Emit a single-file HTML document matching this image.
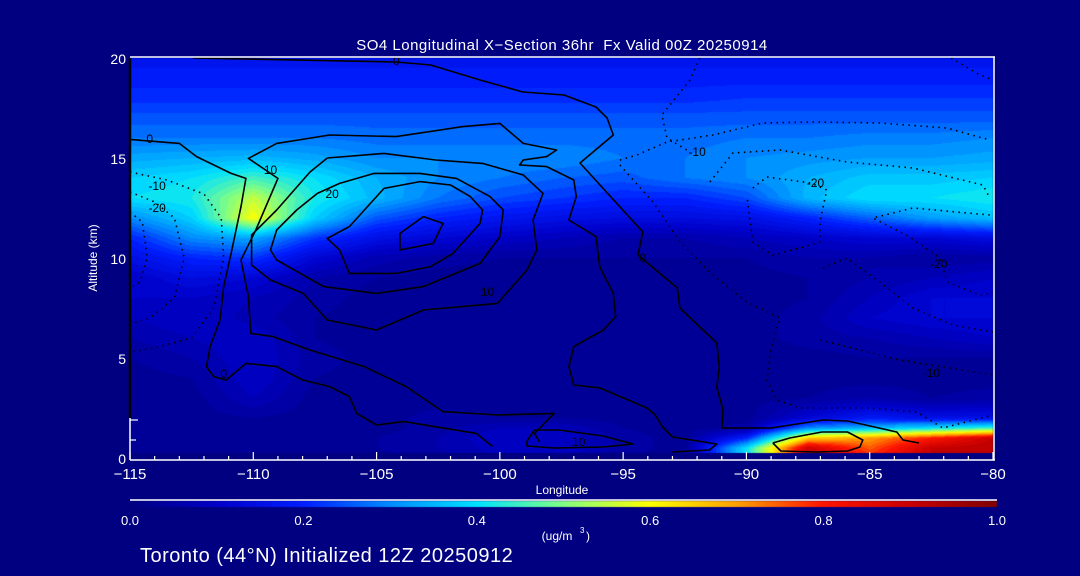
<!DOCTYPE html>
<html><head><meta charset="utf-8">
<style>
html,body{margin:0;padding:0;background:#000080;}
body{width:1080px;height:576px;overflow:hidden;position:relative;font-family:"Liberation Sans",sans-serif;color:#fff;}
canvas{position:absolute;left:0;top:0;}
svg{position:absolute;left:0;top:0;}
</style></head>
<body>
<canvas id="field" width="1080" height="576"></canvas>
<svg id="chart" width="1080" height="576"></svg>
<script>
// ---------- data ----------
const lonGrid = [-115,-112.5,-110,-107.5,-105,-102.5,-100,-97.5,-95,-92.5,-90,-87.5,-85,-82.5,-80];
const altGrid = [20,19,18,17,16,15,14,13,12,11,10,9,8,7,6,5,4,3,2,1.5,1,0.5,0];
const so4 = [
 [0.17,0.17,0.17,0.17,0.17,0.17,0.17,0.17,0.17,0.17,0.17,0.17,0.17,0.17,0.17],
 [0.19,0.19,0.19,0.19,0.19,0.19,0.19,0.19,0.19,0.19,0.19,0.19,0.19,0.19,0.19],
 [0.21,0.21,0.21,0.21,0.21,0.21,0.21,0.21,0.21,0.21,0.22,0.22,0.22,0.22,0.22],
 [0.25,0.25,0.25,0.25,0.25,0.25,0.25,0.25,0.25,0.25,0.25,0.25,0.25,0.25,0.25],
 [0.28,0.28,0.28,0.28,0.27,0.27,0.27,0.27,0.27,0.27,0.28,0.28,0.29,0.29,0.30],
 [0.33,0.34,0.35,0.33,0.30,0.30,0.30,0.30,0.28,0.28,0.30,0.31,0.32,0.32,0.33],
 [0.38,0.40,0.45,0.40,0.34,0.30,0.28,0.26,0.25,0.28,0.30,0.34,0.37,0.37,0.38],
 [0.40,0.42,0.55,0.42,0.35,0.28,0.24,0.22,0.20,0.20,0.24,0.35,0.40,0.40,0.42],
 [0.30,0.38,0.60,0.38,0.25,0.20,0.17,0.15,0.14,0.14,0.15,0.20,0.26,0.32,0.36],
 [0.20,0.30,0.33,0.22,0.15,0.12,0.10,0.08,0.06,0.06,0.08,0.10,0.12,0.12,0.14],
 [0.15,0.20,0.22,0.12,0.07,0.05,0.04,0.04,0.04,0.04,0.04,0.06,0.06,0.04,0.05],
 [0.10,0.14,0.12,0.06,0.04,0.03,0.03,0.03,0.03,0.03,0.03,0.04,0.06,0.08,0.10],
 [0.10,0.10,0.08,0.05,0.03,0.03,0.03,0.03,0.03,0.03,0.03,0.04,0.08,0.12,0.12],
 [0.08,0.10,0.07,0.04,0.03,0.03,0.03,0.03,0.03,0.03,0.03,0.05,0.10,0.12,0.12],
 [0.06,0.08,0.10,0.04,0.03,0.03,0.03,0.03,0.03,0.03,0.03,0.05,0.06,0.08,0.10],
 [0.04,0.06,0.10,0.05,0.03,0.03,0.03,0.03,0.03,0.03,0.03,0.03,0.04,0.04,0.04],
 [0.03,0.04,0.10,0.04,0.03,0.03,0.03,0.03,0.03,0.03,0.03,0.03,0.03,0.03,0.03],
 [0.03,0.03,0.08,0.03,0.03,0.03,0.03,0.03,0.03,0.03,0.03,0.04,0.06,0.04,0.05],
 [0.03,0.03,0.04,0.03,0.03,0.05,0.04,0.04,0.03,0.03,0.03,0.12,0.18,0.15,0.15],
 [0.03,0.03,0.03,0.03,0.03,0.05,0.08,0.08,0.04,0.03,0.05,0.30,0.35,0.40,0.45],
 [0.03,0.03,0.03,0.03,0.04,0.06,0.10,0.10,0.05,0.03,0.20,0.65,0.70,0.80,0.90],
 [0.03,0.03,0.03,0.03,0.04,0.06,0.09,0.10,0.05,0.03,0.40,0.90,0.75,0.90,0.92],
 [0.03,0.03,0.03,0.03,0.03,0.05,0.08,0.08,0.04,0.03,0.40,0.90,0.80,0.90,0.92]
];
const xTickLabels = [-115,-110,-105,-100,-95,-90,-85,-80];
const yTickLabels = [0,5,10,15,20];
const cbarLabels = ["0.0","0.2","0.4","0.6","0.8","1.0"];

// contours [lon, alt]
const posContours = [
 [[-115,15.93],[-113,15.73],[-112.3,15.07],[-110.9,14.23],[-110.3,13.98],[-110.5,12.57],[-110.9,10.23],[-111.2,8.57],[-111.35,6.9],[-111.75,5.57],[-111.9,4.57],[-111.6,4.07],[-111.1,3.9],[-110.3,4.73],[-109.05,4.57],[-108,3.9],[-106.9,3.57],[-106.1,3.07],[-105.8,2.23],[-105,1.65],[-103.9,1.82],[-100.95,1.23],[-100.3,0.57]],
 [[-98.4,0.82],[-98.6,1.23],[-97.8,2.23],[-100.1,2.15],[-102.3,2.32],[-103.8,3.57],[-105.5,4.57],[-107.7,5.4],[-109.2,6.07],[-110.1,6.23],[-110.2,8.07],[-110.5,9.9],[-109.9,11.4],[-109,13.98],[-110.2,14.98],[-109.05,15.73],[-106.9,16.15],[-104.2,16.07],[-101.5,16.57],[-100,16.73],[-99.05,15.73],[-97.7,15.4],[-98.1,15.07],[-99.05,14.9],[-99.2,14.65],[-98.1,14.57],[-97,13.9],[-96.9,13.07],[-97.2,11.9],[-96.1,11.07],[-95.95,9.57],[-95.4,8.23],[-95.3,7.07],[-95.8,6.4],[-97,5.57],[-97.2,4.57],[-97,3.65],[-95.94,3.5],[-94.03,2.5],[-93.7,2.15],[-93.4,1.55],[-93,1.05],[-91.2,0.7],[-91.5,0.4],[-93,0.3]],
 [[-112.45,20],[-104.2,19.8],[-102.8,19.65],[-100.8,18.9],[-99.06,18.3],[-97.4,18.15],[-96.1,17.55],[-95.65,17],[-95.4,16.15],[-96.75,14.75],[-94.2,11.3],[-94.4,10.15],[-92.8,8.5],[-92.7,7.5],[-91.2,5.75],[-91.1,4.55],[-91.2,3.55],[-90.95,2.4],[-91,1.5],[-89,1.5],[-86.9,1.9],[-85.9,1.85],[-83.9,1.3],[-83.65,0.9],[-83,0.75]],
 [[-107,15],[-107.7,14.3],[-109.05,12.4],[-110.07,11.15],[-110.07,9.65],[-109.3,8.9],[-107.97,8.23],[-107,6.9],[-105,6.4],[-103.1,7.4],[-100.1,7.73],[-98.9,9.4],[-98.5,10.4],[-98.65,11.9],[-98.25,13.23],[-99.05,14.15],[-100.7,14.73],[-102.6,14.9],[-104.7,15.23],[-107,15]],
 [[-109.3,10.4],[-109.05,9.9],[-107.15,8.57],[-105,8.23],[-103.1,8.57],[-100.8,9.73],[-100,11.07],[-99.86,12.4],[-100.4,13.07],[-101.76,13.98],[-103.24,14.23],[-105.1,14.23],[-106.5,13.73],[-107.4,13.23],[-108.24,12.4],[-109.05,11.4],[-109.3,10.4]],
 [[-104.7,13.48],[-106.1,11.57],[-107,10.98],[-106.5,10.4],[-106.1,9.23],[-104.2,9.23],[-102.8,9.57],[-101.9,10.23],[-100.8,11.73],[-100.7,12.4],[-101.2,13.07],[-102,13.65],[-103.24,13.82],[-104.7,13.48]],
 [[-103.1,12.07],[-104.05,11.23],[-104.05,10.4],[-102.7,10.73],[-102.3,11.73],[-103.1,12.07]],
 [[-98.9,0.85],[-98.6,1.4],[-97.6,1.4],[-95.8,1.1],[-94.6,0.7],[-95.8,0.55],[-97.8,0.5],[-98.9,0.6],[-98.9,0.85]],
 [[-88.93,0.75],[-88.24,1.0],[-86.94,1.3],[-85.9,1.3],[-85.28,0.9],[-85.4,0.55],[-85.9,0.35],[-87.14,0.3],[-88.6,0.35],[-88.93,0.75]]
];
const negContours = [
 [[-115,14.3],[-113.5,13.9],[-112,13.2],[-111.3,12],[-111.2,10],[-111.6,7.5],[-112.5,6],[-114,5.5],[-115,5.3]],
 [[-115,13.3],[-114,12.8],[-113.2,12],[-112.8,10],[-113.2,8],[-114.2,7],[-115,6.7]],
 [[-115,12.3],[-114.5,11.8],[-114.3,10],[-114.6,8.8],[-115,8.5]],
 [[-91.89,20],[-92.29,18.9],[-93.43,17.15],[-93.22,16],[-92.29,15.3]],
 [[-95.13,14.9],[-94.44,15.15],[-93.22,15.8],[-91.36,16.15],[-89.33,16.75],[-87.3,16.8],[-84.59,16.75],[-81.87,16.5],[-80.13,15.9]],
 [[-95.13,14.65],[-93.79,12.8],[-92.7,10.8],[-91.36,9.15],[-89.98,7.8],[-88.64,7],[-89,5.5],[-89.17,3.9],[-88.76,2.9],[-87.83,2.5],[-85.11,2.5],[-83.09,2.3],[-82.03,1.5],[-80,2.15]],
 [[-87,5.9],[-83.8,4.9],[-80,4.15]],
 [[-91.48,13.8],[-90.55,15.25],[-88.64,15.4],[-85.92,14.8],[-83.25,14.5],[-80.41,13.65],[-80.13,13]],
 [[-89.74,13.5],[-89.17,14.05],[-87.38,13.75],[-86.74,13.4],[-87.02,11.8],[-87.02,10.8],[-87.83,10.5],[-88.93,10.15],[-89.74,10.8],[-89.98,13.1]],
 [[-80.13,12.15],[-83.25,12.5],[-84.87,12],[-83.37,11.05],[-82.15,10],[-81.87,8.8],[-80.53,8.15],[-80,8.25]],
 [[-86.9,9.5],[-85.92,10],[-84.59,8.8],[-83.25,7.5],[-81.63,6.65],[-80,6.3]],
 [[-81.7,20],[-80.6,19.2],[-80,18.9]]
];
const contourLabels = [
 ["0",-114.2,15.95],["-10",-113.9,13.6],["-20",-113.9,12.5],["10",-109.3,14.4],["20",-106.8,13.2],
 ["0",-111.2,4.2],["10",-100.5,8.3],["0",-104.2,19.85],["-10",-92.0,15.3],["0",-94.2,10],
 ["-20",-87.2,13.75],["-20",-82.2,9.7],["-10",-82.5,4.25],["10",-96.8,0.8]
];

// ---------- axes ----------
const X0=130, X1=993, Y0=458, Y1=58;
const LONMIN=-115, LONMAX=-80, ALTMIN=0, ALTMAX=20;
function xs(lon){return X0+(lon-LONMIN)/(LONMAX-LONMIN)*(X1-X0);}
function ys(alt){return Y0-(alt-ALTMIN)/(ALTMAX-ALTMIN)*(Y0-Y1);}

const cmapStops=[[0,0,0,128],[0.1,0,0,200],[0.2,0,30,255],[0.3,0,140,255],[0.4,0,225,255],[0.5,130,255,130],[0.6,255,255,0],[0.7,255,160,0],[0.8,255,20,0],[0.9,200,0,0],[1,128,0,0]];
function cmap(v){
  v=Math.max(0,Math.min(1,v));
  for(let i=1;i<cmapStops.length;i++){
    const a=cmapStops[i-1],b=cmapStops[i];
    if(v<=b[0]){const t=(v-a[0])/(b[0]-a[0]);return [a[1]+(b[1]-a[1])*t,a[2]+(b[2]-a[2])*t,a[3]+(b[3]-a[3])*t];}
  }
  return [128,0,0];
}
function sample(lon,alt){
  let i=0; while(i<lonGrid.length-2 && lon>lonGrid[i+1]) i++;
  let j=0; while(j<altGrid.length-2 && alt<altGrid[j+1]) j++;
  const tx=Math.max(0,Math.min(1,(lon-lonGrid[i])/(lonGrid[i+1]-lonGrid[i])));
  const ty=Math.max(0,Math.min(1,(alt-altGrid[j])/(altGrid[j+1]-altGrid[j])));
  const a=so4[j][i],b=so4[j][i+1],c=so4[j+1][i],d=so4[j+1][i+1];
  return (a*(1-tx)+b*tx)*(1-ty)+(c*(1-tx)+d*tx)*ty;
}
// draw field (discrete levels like filled contours)
const cv=document.getElementById('field');
const ctx=cv.getContext('2d');
const yBot=453;
const img=ctx.createImageData(X1-X0,yBot-Y1);
for(let py=0;py<yBot-Y1;py++){
  const alt=ALTMAX-(py+0.5)/(Y0-Y1)*(ALTMAX-ALTMIN);
  for(let px=0;px<X1-X0;px++){
    const lon=LONMIN+(px+0.5)/(X1-X0)*(LONMAX-LONMIN);
    const v=Math.floor(sample(lon,alt)/0.02)*0.02+0.01;
    const c=cmap(v);
    const k=(py*(X1-X0)+px)*4;
    img.data[k]=c[0];img.data[k+1]=c[1];img.data[k+2]=c[2];img.data[k+3]=255;
  }
}
ctx.putImageData(img,X0,Y1);
// colorbar
const cbW=997-130;
const cb=ctx.createImageData(cbW,6);
for(let px=0;px<cbW;px++){const c=cmap(px/(cbW-1));for(let py=0;py<6;py++){const k=(py*cbW+px)*4;cb.data[k]=c[0];cb.data[k+1]=c[1];cb.data[k+2]=c[2];cb.data[k+3]=255;}}
ctx.putImageData(cb,130,501);

// ---------- SVG ----------
const NS='http://www.w3.org/2000/svg';
const svg=document.getElementById('chart');
function el(tag,attrs,parent){const e=document.createElementNS(NS,tag);for(const k in attrs)e.setAttribute(k,attrs[k]);(parent||svg).appendChild(e);return e;}
function txt(s,x,y,size,anchor,parent,fill){const t=el('text',{x:x,y:y,'font-size':size,'text-anchor':anchor||'middle',fill:fill||'#fff','font-family':'Liberation Sans, sans-serif'},parent);t.textContent=s;return t;}

const gC=el('g',{});


posContours.forEach(function(c){
  const p=el('polyline',{points:c.map(function(q){return xs(q[0]).toFixed(1)+','+ys(q[1]).toFixed(1);}).join(' '),fill:'none',stroke:'#000','stroke-width':1.6,'stroke-linejoin':'round'},gC);
  
  
});
negContours.forEach(function(c){
  const p=el('polyline',{points:c.map(function(q){return xs(q[0]).toFixed(1)+','+ys(q[1]).toFixed(1);}).join(' '),fill:'none',stroke:'#000','stroke-width':1.6,'stroke-dasharray':'1.5 4.5'},gC);
  
  
});
contourLabels.forEach(function(l){
  const t=txt(l[0],xs(l[1]),ys(l[2])+4,12,'middle',gC,'#000');
  
  
});

// frame
const gA=el('g',{});


el('line',{x1:X0,y1:Y1-1,x2:995,y2:Y1-1,stroke:'#fff','stroke-width':1.5},gA);
el('line',{x1:994,y1:Y1-1,x2:994,y2:460,stroke:'#fff','stroke-width':1.5},gA);
el('line',{x1:X0,y1:460,x2:995,y2:460,stroke:'#fff','stroke-width':1.5},gA);
el('line',{x1:X0,y1:Y1,x2:X0,y2:418,stroke:'#000','stroke-width':2.5},gA);
el('line',{x1:X0,y1:418,x2:X0,y2:460,stroke:'#fff','stroke-width':1.5},gA);
el('line',{x1:X0,y1:420,x2:X0+8,y2:420,stroke:'#fff','stroke-width':1.2},gA);
el('line',{x1:X0,y1:440,x2:X0+6,y2:440,stroke:'#fff','stroke-width':1.2},gA);
for(let lon=LONMIN;lon<=LONMAX;lon++){
  const major=(lon%5===0);
  el('line',{x1:xs(lon),y1:460,x2:xs(lon),y2:major?452:456,stroke:'#fff','stroke-width':1.2},gA);
}
xTickLabels.forEach(function(v){
  const t=txt(String(v).replace('-','\u2212'),xs(v),479,15,'middle',gA);
  
  
});
yTickLabels.forEach(function(v){
  const t=txt(String(v),126,ys(v)+6,14,'end',gA);
  
  
});
const xt=txt('Longitude',562,494,12,'middle',gA);


const yt=txt('Altitude (km)',0,0,12,'middle',gA);
yt.setAttribute('transform','translate(97,258) rotate(-90)');


const ti=txt('SO4 Longitudinal X\u2212Section 36hr  Fx Valid 00Z 20250914',562,50,15,'middle',svg);
ti.setAttribute('xml:space','preserve');
ti.setAttribute('style','white-space:pre;letter-spacing:0.5px');



// colorbar
const gB=el('g',{});


el('line',{x1:130,y1:500,x2:997,y2:500,stroke:'#fff','stroke-width':1.5},gB);
cbarLabels.forEach(function(s,i){
  const t=txt(s,130+i*(997-130)/(cbarLabels.length-1),525,13,'middle',gB);
  
  
});
const un=txt('(ug/m',557,540,12,'middle',gB);


txt('3',580,533,8,'start',gB);
txt(')',586,540,12,'start',gB);

const ft=txt('Toronto (44\u00B0N) Initialized 12Z 20250912',140,562,20,'start',svg);
ft.setAttribute('style','letter-spacing:0.5px');


</script>
</body></html>
